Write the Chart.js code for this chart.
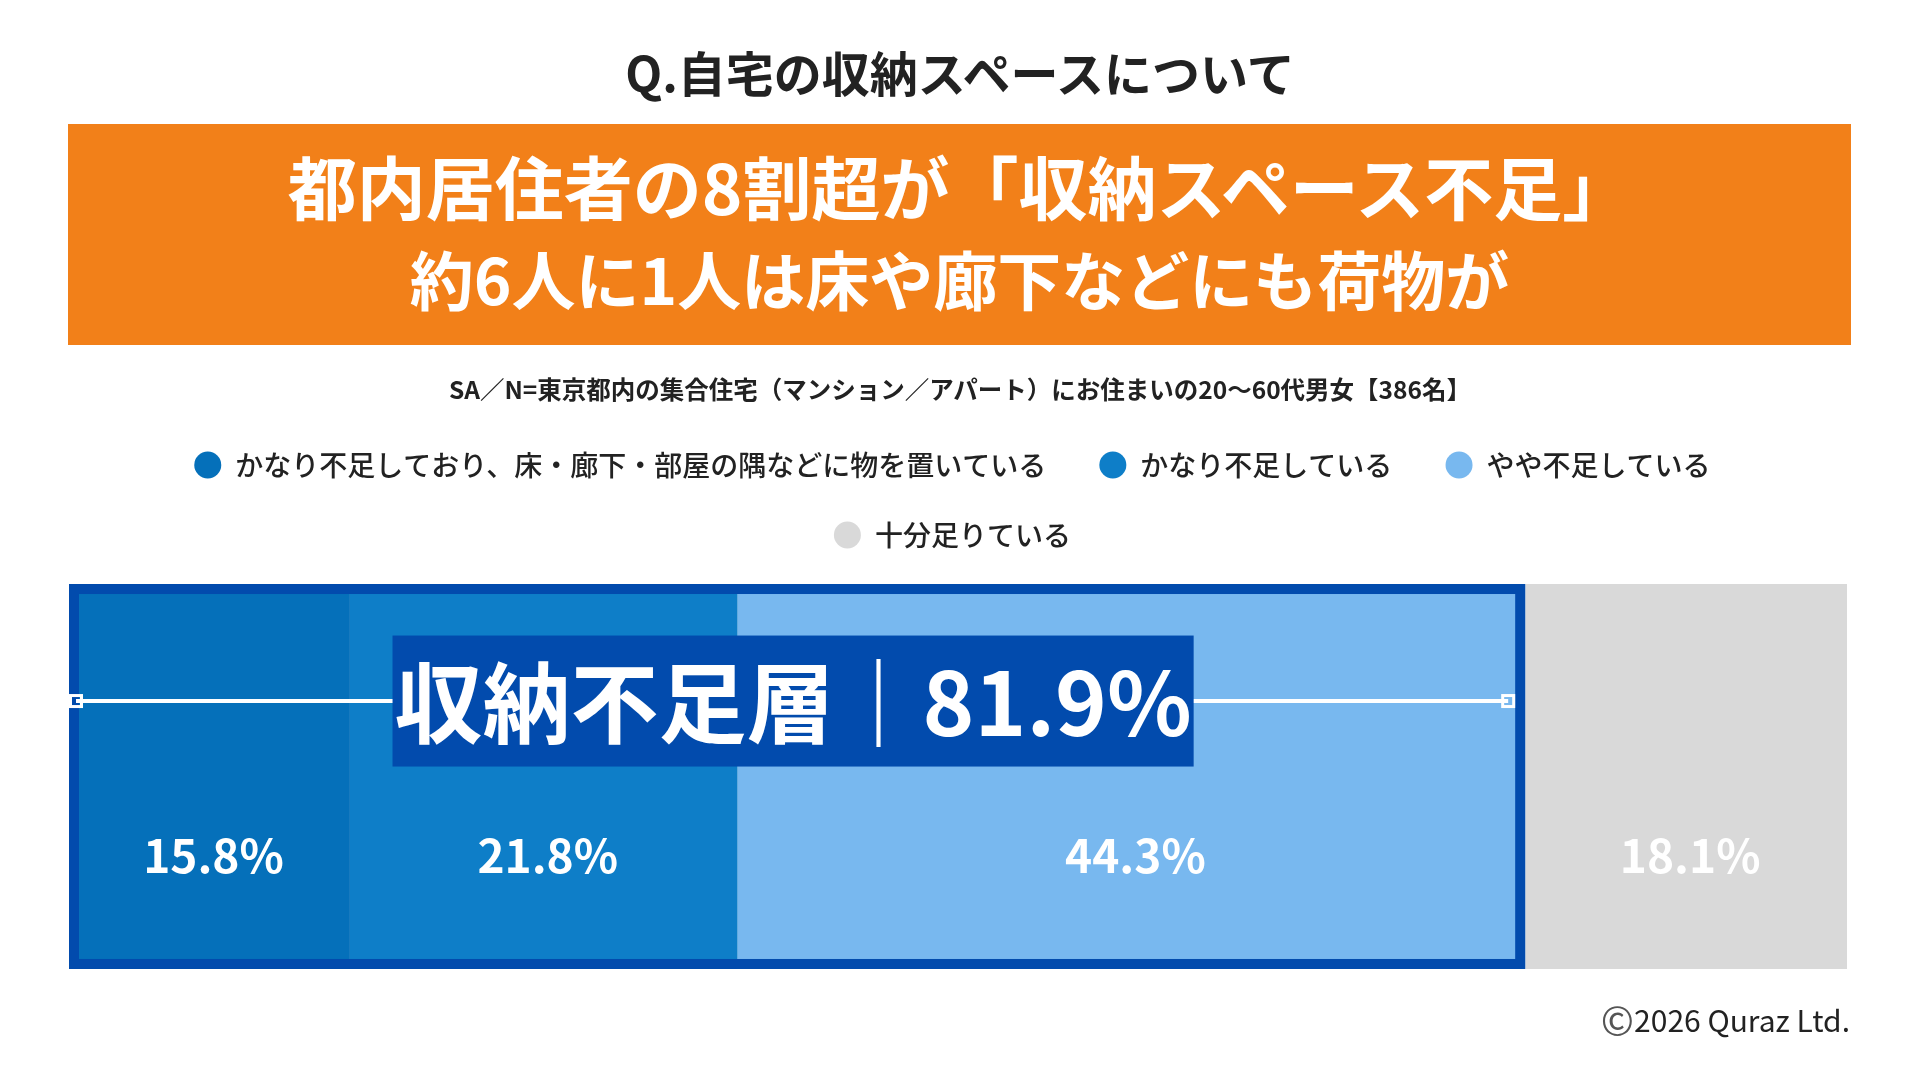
<!DOCTYPE html>
<html lang="ja">
<head>
<meta charset="utf-8">
<title>自宅の収納スペースについて</title>
<script src="https://cdn.jsdelivr.net/npm/chart.js@4.4.1/dist/chart.umd.min.js"></script>
<style>
    html, body {
        margin: 0;
        padding: 0;
        background: #ffffff;
    }
    body {
        position: relative;
        width: 1920px;
        height: 1080px;
        overflow: hidden;
        font-family: "Noto Sans CJK JP", "Noto Sans", sans-serif;
        color: #222222;
    }
    #chart {
        position: absolute;
        left: 0;
        top: 0;
    }
    .title {
        position: absolute;
        left: 0;
        width: 1920px;
        top: 43px;
        line-height: 56px;
        text-align: center;
        font-size: 48px;
        font-weight: 700;
    }
    .banner {
        position: absolute;
        left: 68px;
        top: 124px;
        width: 1783px;
        height: 221px;
        background: #F28019;
        color: #ffffff;
        font-weight: 700;
    }
    .banner div {
        position: absolute;
        left: 0;
        width: 100%;
        line-height: 92px;
        text-align: center;
        white-space: nowrap;
    }
    .banner .l1 {
        top: 15px;
        font-size: 69px;
    }
    .banner .l2 {
        top: 107px;
        font-size: 64px;
    }
    .note {
        position: absolute;
        left: 0;
        width: 1920px;
        top: 374px;
        line-height: 30px;
        text-align: center;
        font-size: 24.5px;
        font-weight: 700;
    }
    .copyright {
        position: absolute;
        right: 70px;
        top: 999px;
        line-height: 38px;
        font-size: 30px;
        font-weight: 400;
    }
    .copyright span {
        font-size: 40px;
        color: #555555;
        vertical-align: -3px;
    }
</style>
</head>
<body>

<canvas id="chart" width="1920" height="1080"></canvas>

<div class="title">Q.自宅の収納スペースについて</div>
<div class="banner">
    <div class="l1">都内居住者の8割超が「収納スペース不足」</div>
    <div class="l2">約6人に1人は床や廊下などにも荷物が</div>
</div>
<div class="note">SA／N=東京都内の集合住宅（マンション／アパート）にお住まいの20〜60代男女【386名】</div>
<div class="copyright"><span>©</span>2026 Quraz Ltd.</div>

<script>
// データ
const categories = ["自宅の収納スペース"];

const seriesLabels = [
    "かなり不足しており、床・廊下・部屋の隅などに物を置いている",
    "かなり不足している",
    "やや不足している",
    "十分足りている"
];

const seriesValues = [15.8, 21.8, 44.3, 18.1];

const seriesColors = ["#0570BA", "#0E7EC8", "#78B8EF", "#D9D9D9"];

const shortageLabel = "収納不足層";
const shortageValue = 81.9;

const fontFamily = "'Noto Sans CJK JP', 'Noto Sans', sans-serif";
const frameColor = "#024BAD";

// 収納不足層の枠・ラベル
const shortageFrame = {
    id: "shortageFrame",
    afterDatasetsDraw(chart) {
        const { ctx } = chart;
        const xScale = chart.scales.x;
        const bar = chart.getDatasetMeta(0).data[0];

        const left = xScale.getPixelForValue(0);
        const right = xScale.getPixelForValue(shortageValue);
        const top = bar.y - bar.height / 2;
        const bottom = bar.y + bar.height / 2;
        const h = bottom - top;

        ctx.save();

        // 枠
        ctx.lineWidth = 10;
        ctx.strokeStyle = frameColor;
        ctx.strokeRect(left + 5, top + 5, right - left - 10, h - 10);

        // 横線と端の四角
        const lineY = top + h * 0.304;
        const x1 = left + 7;
        const x2 = right - 17;
        ctx.strokeStyle = "#ffffff";
        ctx.lineWidth = 4;
        ctx.beginPath();
        ctx.moveTo(x1, lineY);
        ctx.lineTo(x2, lineY);
        ctx.stroke();

        ctx.lineWidth = 3;
        ctx.strokeRect(x1 - 5.5, lineY - 5.5, 11, 11);
        ctx.strokeRect(x2 - 5.5, lineY - 5.5, 11, 11);

        // ラベル
        const text = shortageLabel + "｜" + shortageValue.toFixed(1) + "%";
        ctx.font = "700 88px " + fontFamily;
        const tw = ctx.measureText(text).width;
        const cx = (left + right) / 2 - 4;
        const boxW = tw + 4;
        const boxH = 131;

        ctx.fillStyle = frameColor;
        ctx.fillRect(cx - boxW / 2, lineY - boxH / 2, boxW, boxH);

        ctx.fillStyle = "#ffffff";
        ctx.textAlign = "center";
        ctx.textBaseline = "middle";
        ctx.fillText(text, cx, lineY + 2);

        ctx.restore();
    }
};

// 各セグメントの値
const valueLabels = {
    id: "valueLabels",
    afterDatasetsDraw(chart) {
        const { ctx } = chart;
        ctx.save();
        ctx.font = "700 46px " + fontFamily;
        ctx.fillStyle = "#ffffff";
        ctx.textAlign = "center";
        ctx.textBaseline = "middle";

        chart.data.datasets.forEach((ds, i) => {
            const bar = chart.getDatasetMeta(i).data[0];
            const cx = (bar.x + bar.base) / 2 + 4;
            const top = bar.y - bar.height / 2;
            const cy = top + bar.height * 0.706;
            ctx.fillText(ds.data[0].toFixed(1) + "%", cx, cy);
        });

        ctx.restore();
    }
};

const ctx = document.getElementById("chart").getContext("2d");

new Chart(ctx, {
    type: "bar",

    data: {
        labels: categories,
        datasets: seriesLabels.map((label, i) => ({
            label,
            data: [seriesValues[i]],
            backgroundColor: seriesColors[i],
            borderWidth: 0,
            categoryPercentage: 1,
            barPercentage: 0.885
        }))
    },

    options: {
        indexAxis: "y",
        responsive: false,
        animation: false,
        devicePixelRatio: 1,

        layout: {
            padding: {
                left: 69,
                right: 73,
                top: 409,
                bottom: 86
            }
        },

        plugins: {
            legend: {
                position: "top",
                labels: {
                    color: "#222222",
                    usePointStyle: true,
                    pointStyle: "circle",
                    boxHeight: 19,
                    pointStyleWidth: 27,
                    padding: 42,
                    font: {
                        family: fontFamily,
                        size: 28,
                        weight: 500
                    },
                    // 項目間を少し広げる
                    generateLabels(chart) {
                        return Chart.defaults.plugins.legend.labels
                            .generateLabels(chart)
                            .map(item => ({ ...item, text: item.text + "\u2009\u2009" }));
                    }
                }
            },
            tooltip: {
                enabled: false
            }
        },

        scales: {
            x: {
                stacked: true,
                min: 0,
                max: 100,
                display: false
            },
            y: {
                stacked: true,
                display: false
            }
        }
    },

    plugins: [shortageFrame, valueLabels]
});
</script>
</body>
</html>
